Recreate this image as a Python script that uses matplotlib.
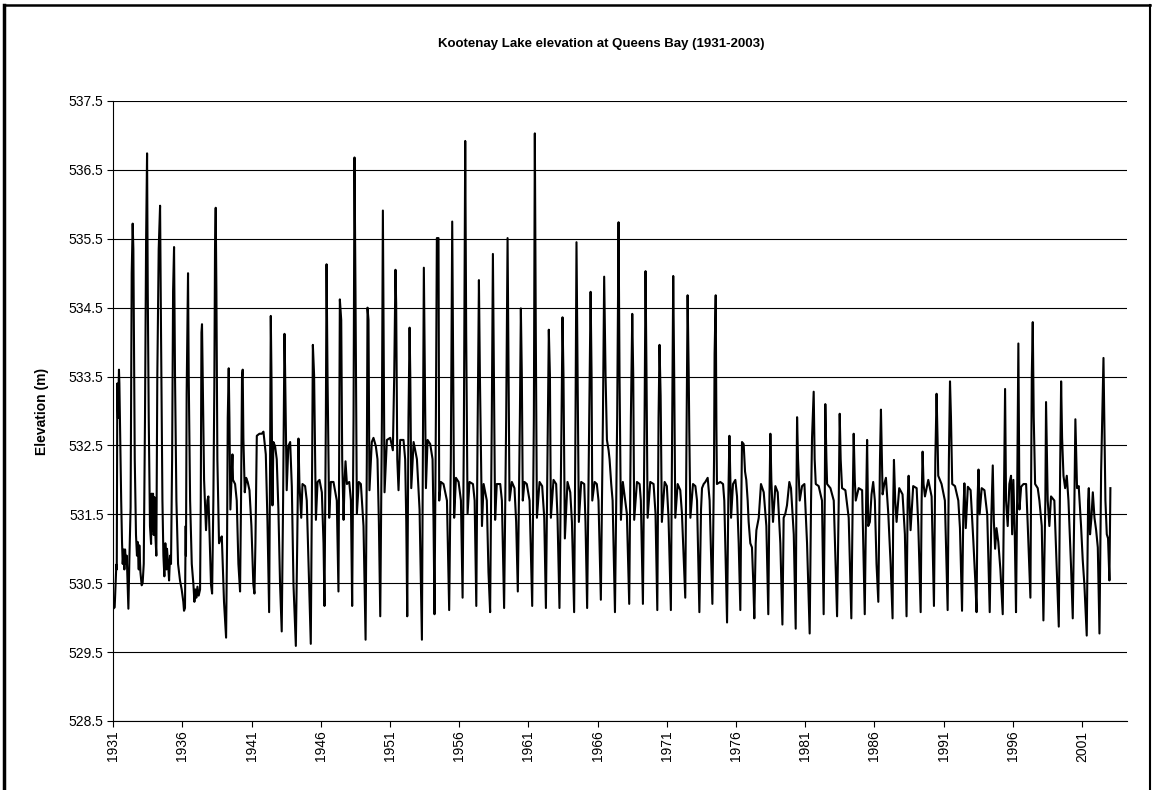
import numpy as np
import matplotlib.pyplot as plt
from matplotlib.lines import Line2D

plt.rcParams['font.family'] = ['Liberation Sans', 'DejaVu Sans']

# hydrograph break points: (decimal year, elevation m)
before_dam = [
    (1931.00, 530.13), (1931.10, 530.15), (1931.22, 530.77), (1931.25, 530.70), (1931.29, 533.40),
    (1931.34, 532.90), (1931.41, 533.60), (1931.44, 533.40), (1931.57, 531.70), (1931.63, 531.10),
    (1931.68, 530.78), (1931.75, 530.99), (1931.80, 530.70), (1931.85, 530.99), (1931.92, 530.78),
    (1931.97, 530.90), (1932.09, 530.13), (1932.16, 530.83), (1932.25, 531.60), (1932.33, 535.00),
    (1932.40, 535.72), (1932.45, 535.35), (1932.55, 532.30), (1932.64, 531.20), (1932.71, 530.90),
    (1932.76, 531.10), (1932.84, 530.70), (1932.88, 531.05), (1932.96, 530.66), (1933.05, 530.47),
    (1933.12, 530.50), (1933.20, 530.78), (1933.29, 532.90), (1933.37, 535.48), (1933.44, 536.74),
    (1933.49, 534.74), (1933.56, 532.90), (1933.65, 531.33), (1933.73, 531.07), (1933.77, 531.80),
    (1933.82, 531.27), (1933.87, 531.80), (1933.92, 531.20), (1933.97, 531.75), (1934.04, 531.20),
    (1934.11, 530.90), (1934.18, 533.50), (1934.28, 535.35), (1934.38, 535.98), (1934.45, 534.10),
    (1934.55, 531.70), (1934.62, 530.90), (1934.69, 530.60), (1934.76, 531.08), (1934.84, 530.70),
    (1934.88, 531.00), (1934.96, 530.78), (1935.03, 530.54), (1935.10, 530.90), (1935.17, 530.78),
    (1935.25, 532.30), (1935.32, 534.74), (1935.39, 535.38), (1935.46, 533.50), (1935.56, 531.70),
    (1935.68, 530.78), (1935.82, 530.54), (1935.94, 530.41), (1936.06, 530.23), (1936.11, 530.10),
    (1936.18, 530.14), (1936.23, 531.33), (1936.25, 530.90), (1936.30, 533.25), (1936.35, 534.14),
    (1936.40, 535.00), (1936.45, 533.50), (1936.55, 531.70), (1936.67, 530.78), (1936.79, 530.48),
    (1936.86, 530.23), (1936.93, 530.41), (1937.00, 530.29), (1937.08, 530.45), (1937.17, 530.32),
    (1937.27, 530.41), (1937.32, 531.70), (1937.37, 534.14), (1937.41, 534.26), (1937.46, 533.50),
    (1937.56, 532.00), (1937.70, 531.27), (1937.80, 531.70), (1937.87, 531.76), (1937.92, 531.45),
    (1937.99, 530.96), (1938.06, 530.48), (1938.14, 530.35), (1938.23, 531.70), (1938.30, 533.34),
    (1938.35, 535.35), (1938.40, 535.95), (1938.45, 534.74), (1938.52, 532.30), (1938.64, 531.08),
    (1938.76, 531.15), (1938.84, 531.18), (1938.91, 530.78), (1939.00, 530.23), (1939.15, 529.71),
]

corra_linn = [
    (1939.22, 531.08), (1939.27, 532.90), (1939.34, 533.62), (1939.39, 532.90), (1939.46, 531.57),
    (1939.53, 531.94), (1939.61, 532.37), (1939.65, 532.00), (1939.80, 531.94), (1939.92, 531.70),
    (1940.04, 530.78), (1940.16, 530.38), (1940.23, 531.70), (1940.30, 533.50), (1940.35, 533.60),
    (1940.40, 532.60), (1940.50, 531.82), (1940.60, 532.03), (1940.71, 531.97), (1940.84, 531.85),
    (1940.98, 531.33), (1941.12, 530.48), (1941.20, 530.35), (1941.27, 531.08), (1941.37, 532.64),
    (1941.56, 532.67), (1941.73, 532.67), (1941.85, 532.70), (1942.02, 532.37), (1942.14, 531.39),
    (1942.26, 530.08), (1942.33, 532.30), (1942.38, 534.38), (1942.43, 533.50), (1942.50, 531.63),
    (1942.57, 532.55), (1942.69, 532.49), (1942.81, 532.30), (1942.93, 531.57), (1943.05, 530.48),
    (1943.17, 529.80), (1943.27, 531.70), (1943.37, 534.12), (1943.41, 533.65), (1943.53, 531.85),
    (1943.65, 532.49), (1943.78, 532.55), (1943.90, 531.90), (1944.02, 530.48), (1944.19, 529.59),
    (1944.29, 531.08), (1944.38, 532.60), (1944.45, 531.94), (1944.58, 531.45), (1944.67, 531.94),
    (1944.86, 531.91), (1944.98, 531.70), (1945.15, 530.48), (1945.27, 529.62), (1945.37, 532.30),
    (1945.42, 533.96), (1945.51, 533.52), (1945.64, 531.42), (1945.76, 531.97), (1945.90, 532.00),
    (1946.07, 531.82), (1946.19, 531.08), (1946.26, 530.17), (1946.36, 532.90), (1946.41, 535.13),
    (1946.48, 533.52), (1946.60, 531.45), (1946.72, 531.97), (1946.91, 531.97), (1947.15, 531.70),
    (1947.27, 530.38), (1947.32, 532.30), (1947.37, 534.62), (1947.47, 534.32), (1947.54, 532.30),
    (1947.64, 531.42), (1947.71, 531.97), (1947.78, 532.27), (1947.88, 531.94), (1948.05, 531.97),
    (1948.17, 531.70), (1948.26, 530.17), (1948.36, 532.90), (1948.43, 536.68), (1948.50, 534.74),
    (1948.60, 531.51), (1948.74, 531.97), (1948.89, 531.94), (1949.08, 531.33), (1949.23, 529.68),
    (1949.32, 532.30), (1949.37, 534.50), (1949.44, 534.32), (1949.51, 531.85), (1949.68, 532.55),
    (1949.80, 532.61), (1949.97, 532.49), (1950.09, 532.30), (1950.19, 531.39), (1950.29, 530.02),
    (1950.41, 532.90), (1950.48, 535.91), (1950.53, 534.13), (1950.60, 531.82), (1950.77, 532.58),
    (1951.01, 532.61), (1951.20, 532.43), (1951.30, 533.52), (1951.39, 535.05), (1951.44, 534.56),
    (1951.52, 532.30), (1951.61, 531.85), (1951.73, 532.58), (1951.97, 532.58), (1952.09, 532.30),
    (1952.17, 531.39), (1952.24, 530.02), (1952.33, 532.90), (1952.41, 534.21), (1952.46, 533.52),
    (1952.53, 531.88), (1952.70, 532.55), (1952.94, 532.30), (1953.13, 531.57), (1953.30, 529.68),
    (1953.37, 532.30), (1953.44, 535.08), (1953.51, 533.52), (1953.59, 531.88), (1953.71, 532.58),
    (1953.90, 532.52), (1954.07, 532.30), (1954.14, 531.39), (1954.21, 530.05), (1954.31, 532.90),
    (1954.38, 535.51), (1954.50, 535.51), (1954.55, 531.70), (1954.67, 531.97), (1954.86, 531.94),
    (1955.11, 531.70), (1955.27, 530.11), (1955.39, 532.30), (1955.49, 535.75), (1955.56, 533.52),
    (1955.63, 531.45), (1955.76, 532.03), (1955.95, 531.97), (1956.12, 531.70), (1956.24, 530.29),
    (1956.33, 532.61), (1956.43, 536.92), (1956.50, 534.13), (1956.60, 531.51), (1956.74, 531.97),
    (1956.99, 531.94), (1957.11, 531.70), (1957.23, 530.17), (1957.32, 532.61), (1957.42, 534.90),
    (1957.49, 533.52), (1957.64, 531.33), (1957.76, 531.94), (1957.99, 531.70), (1958.11, 530.66),
    (1958.23, 530.08), (1958.35, 532.90), (1958.43, 535.28), (1958.50, 533.52), (1958.59, 531.42),
    (1958.71, 531.94), (1958.96, 531.94), (1959.08, 531.70), (1959.24, 530.14), (1959.39, 532.90),
    (1959.49, 535.51), (1959.56, 533.52), (1959.63, 531.70), (1959.80, 531.97), (1959.99, 531.88),
    (1960.11, 531.39), (1960.23, 530.38), (1960.38, 532.90), (1960.45, 534.49), (1960.52, 533.52),
    (1960.59, 531.70), (1960.71, 531.97), (1960.88, 531.94), (1961.08, 531.70), (1961.27, 530.17),
    (1961.39, 532.90), (1961.46, 537.03), (1961.53, 534.13), (1961.61, 531.45), (1961.80, 531.97),
    (1961.99, 531.91), (1962.14, 531.45), (1962.26, 530.14), (1962.40, 532.90), (1962.47, 534.18),
    (1962.55, 533.52), (1962.62, 531.45), (1962.81, 532.00), (1963.00, 531.94), (1963.10, 531.45),
    (1963.24, 530.14), (1963.39, 532.90), (1963.46, 534.36), (1963.53, 533.52), (1963.63, 531.15),
    (1963.82, 531.97), (1964.02, 531.82), (1964.14, 531.39), (1964.30, 530.08), (1964.40, 532.90),
    (1964.47, 535.45), (1964.55, 533.52), (1964.64, 531.39), (1964.81, 531.97), (1965.03, 531.94),
    (1965.12, 531.39), (1965.24, 530.14), (1965.39, 532.90), (1965.49, 534.73), (1965.56, 533.52),
    (1965.61, 531.70), (1965.78, 531.97), (1965.94, 531.94), (1966.06, 531.70), (1966.23, 530.26),
    (1966.38, 532.90), (1966.47, 534.95), (1966.57, 533.52), (1966.67, 532.58), (1966.79, 532.43),
    (1966.86, 532.30), (1966.98, 531.94), (1967.08, 531.70), (1967.25, 530.08), (1967.41, 532.90),
    (1967.51, 535.74), (1967.58, 533.52), (1967.68, 531.42), (1967.82, 531.97), (1967.99, 531.70),
    (1968.11, 531.51), (1968.28, 530.20), (1968.40, 532.90), (1968.50, 534.41), (1968.57, 533.52),
    (1968.64, 531.42), (1968.84, 531.97), (1969.03, 531.94), (1969.12, 531.70), (1969.27, 530.20),
    (1969.39, 532.90), (1969.46, 535.03), (1969.53, 533.52), (1969.61, 531.45), (1969.80, 531.97),
    (1970.04, 531.94), (1970.18, 531.51), (1970.31, 530.11), (1970.40, 532.90), (1970.47, 533.96),
    (1970.55, 533.22), (1970.64, 531.39), (1970.84, 531.97), (1971.00, 531.91), (1971.12, 531.45),
    (1971.29, 530.11), (1971.39, 532.90), (1971.46, 534.96), (1971.53, 533.52), (1971.61, 531.45),
    (1971.78, 531.94), (1971.97, 531.85),
]

libby = [
    (1972.09, 531.51), (1972.33, 530.29), (1972.43, 532.90), (1972.50, 534.68), (1972.58, 533.52),
    (1972.62, 532.73), (1972.70, 531.45), (1972.89, 531.94), (1973.06, 531.91), (1973.18, 531.70),
    (1973.35, 530.08), (1973.47, 531.57), (1973.54, 531.88), (1973.66, 531.94), (1973.78, 531.97),
    (1973.95, 532.03), (1974.09, 531.70), (1974.29, 530.20), (1974.41, 532.30), (1974.45, 533.83),
    (1974.53, 534.68), (1974.58, 532.79), (1974.62, 531.94), (1974.86, 531.97), (1975.06, 531.94),
    (1975.15, 531.70), (1975.35, 529.93), (1975.44, 531.70), (1975.52, 532.64), (1975.59, 532.00),
    (1975.64, 531.45), (1975.78, 531.94), (1975.95, 532.00), (1976.07, 531.76), (1976.19, 531.08),
    (1976.31, 530.11), (1976.38, 531.70), (1976.43, 532.55), (1976.55, 532.52), (1976.65, 532.12),
    (1976.74, 532.00), (1976.84, 531.70), (1976.91, 531.39), (1977.03, 531.08), (1977.15, 531.02),
    (1977.25, 530.48), (1977.32, 529.99), (1977.42, 531.08), (1977.47, 531.27), (1977.64, 531.45),
    (1977.80, 531.94), (1978.00, 531.82), (1978.19, 531.33), (1978.33, 530.05), (1978.41, 531.70),
    (1978.48, 532.67), (1978.55, 532.00), (1978.67, 531.39), (1978.84, 531.91), (1979.01, 531.82),
    (1979.20, 531.08), (1979.35, 529.90), (1979.44, 531.45), (1979.56, 531.51), (1979.68, 531.63),
    (1979.85, 531.97), (1979.97, 531.88), (1980.17, 531.21), (1980.31, 529.84), (1980.36, 531.70),
    (1980.41, 532.91), (1980.48, 532.30), (1980.60, 531.70), (1980.77, 531.91), (1980.94, 531.94),
    (1981.13, 531.08), (1981.32, 529.77), (1981.42, 531.70), (1981.49, 532.61), (1981.61, 533.28),
    (1981.68, 532.30), (1981.76, 531.94), (1981.97, 531.91), (1982.21, 531.70), (1982.33, 530.05),
    (1982.41, 531.70), (1982.45, 533.10), (1982.53, 532.30), (1982.58, 531.94), (1982.82, 531.88),
    (1983.06, 531.70), (1983.30, 530.02), (1983.42, 531.70), (1983.49, 532.96), (1983.56, 532.30),
    (1983.66, 531.88), (1983.90, 531.85), (1984.14, 531.45), (1984.33, 529.99), (1984.43, 531.70),
    (1984.50, 532.67), (1984.58, 532.00), (1984.65, 531.70), (1984.86, 531.88), (1985.11, 531.85),
    (1985.30, 530.05), (1985.40, 531.70), (1985.47, 532.58), (1985.55, 531.33), (1985.67, 531.39),
    (1985.79, 531.79), (1985.91, 531.97), (1986.03, 531.70), (1986.15, 530.78), (1986.28, 530.23),
    (1986.40, 532.30), (1986.47, 533.02), (1986.54, 532.30), (1986.59, 531.79), (1986.71, 531.94),
    (1986.83, 532.03), (1987.00, 531.51), (1987.17, 530.78), (1987.31, 529.99), (1987.36, 531.70),
    (1987.41, 532.29), (1987.50, 531.70), (1987.60, 531.39), (1987.79, 531.88), (1988.03, 531.79),
    (1988.20, 531.21), (1988.32, 530.02), (1988.40, 531.70), (1988.47, 532.06), (1988.54, 531.63),
    (1988.61, 531.27), (1988.80, 531.91), (1989.05, 531.88), (1989.17, 531.33), (1989.34, 530.08),
    (1989.41, 531.70), (1989.48, 532.41), (1989.55, 531.94), (1989.65, 531.76), (1989.89, 532.00),
    (1990.13, 531.76), (1990.30, 530.17), (1990.40, 532.30), (1990.49, 533.25), (1990.56, 532.61),
    (1990.61, 532.06), (1990.85, 531.94), (1991.09, 531.70), (1991.29, 530.11), (1991.38, 532.30),
    (1991.46, 533.43), (1991.53, 532.91), (1991.62, 531.94), (1991.82, 531.91), (1992.06, 531.70),
    (1992.18, 531.30), (1992.33, 530.10), (1992.42, 531.50), (1992.50, 531.95), (1992.60, 531.30),
    (1992.75, 531.90), (1992.95, 531.85), (1993.15, 531.10), (1993.30, 530.48), (1993.38, 530.08),
    (1993.45, 531.70), (1993.52, 532.15), (1993.60, 531.50), (1993.75, 531.88), (1993.95, 531.85),
    (1994.15, 531.50), (1994.33, 530.08), (1994.45, 531.50), (1994.55, 532.21), (1994.63, 531.40),
    (1994.72, 531.00), (1994.82, 531.30), (1994.95, 531.10), (1995.10, 530.70), (1995.27, 530.05),
    (1995.38, 532.20), (1995.44, 533.32), (1995.51, 531.70), (1995.63, 531.33), (1995.75, 531.94),
    (1995.87, 532.06), (1995.95, 531.21), (1996.04, 532.00), (1996.14, 531.20), (1996.23, 530.08),
    (1996.31, 531.70), (1996.40, 533.98), (1996.48, 531.57), (1996.60, 531.90), (1996.77, 531.94),
    (1996.96, 531.94), (1997.08, 531.33), (1997.27, 530.29), (1997.37, 533.52), (1997.44, 534.29),
    (1997.51, 532.91), (1997.61, 531.94), (1997.80, 531.88), (1997.92, 531.70), (1998.09, 531.33),
    (1998.21, 529.96), (1998.35, 531.70), (1998.40, 533.13), (1998.52, 531.70), (1998.64, 531.33),
    (1998.76, 531.76), (1999.00, 531.70), (1999.17, 530.72), (1999.32, 529.87), (1999.42, 532.18),
    (1999.49, 533.43), (1999.56, 532.61), (1999.66, 532.06), (1999.78, 531.88), (1999.90, 532.06),
    (2000.02, 531.70), (2000.21, 530.72), (2000.33, 529.99), (2000.45, 531.70), (2000.52, 532.88),
    (2000.64, 531.88), (2000.76, 531.91), (2000.93, 531.33), (2001.05, 530.84), (2001.17, 530.48),
    (2001.34, 529.74), (2001.44, 531.70), (2001.49, 531.88), (2001.58, 531.21), (2001.68, 531.45),
    (2001.78, 531.82), (2001.90, 531.45), (2002.02, 531.27), (2002.14, 531.02), (2002.26, 529.77),
    (2002.38, 532.12), (2002.55, 533.77), (2002.69, 531.70), (2002.79, 531.21), (2002.88, 531.15),
    (2002.98, 530.54), (2003.05, 531.88),
]

tick_years = list(range(1931, 2002, 5))
elev_ticks = [528.5, 529.5, 530.5, 531.5, 532.5, 533.5, 534.5, 535.5, 536.5, 537.5]

fig = plt.figure(figsize=(11.53, 7.90), dpi=100)
ax = fig.add_axes([113.3 / 1153, 1 - 721 / 790, (1127 - 113.3) / 1153, 620 / 790])

pts = before_dam + corra_linn + libby
t = [p[0] for p in pts]
z = [p[1] for p in pts]
ax.plot(t, z, color='black', lw=1.5)

ax.set_xlim(1931, 2004.25)
ax.set_ylim(528.5, 537.5)
ax.set_yticks(elev_ticks)
ax.set_yticklabels([f'{v:.1f}' for v in elev_ticks], fontsize=10)
ax.set_xticks(tick_years)
ax.set_xticklabels([str(y) for y in tick_years], rotation=90, fontsize=10)
ax.tick_params(direction='out', length=4, width=0.8, color='black', pad=3)
ax.grid(axis='y', color='black', lw=0.8)
ax.set_axisbelow(True)
for s in ('top', 'right'):
    ax.spines[s].set_visible(False)
ax.spines['left'].set_linewidth(0.8)
ax.spines['bottom'].set_linewidth(0.8)

ax.set_ylabel('Elevation (m)', fontsize=10, fontweight='bold', labelpad=14)
fig.text(601 / 1153, 1 - 44 / 790, 'Kootenay Lake elevation at Queens Bay (1931-2003)',
         ha='center', va='center', fontsize=9.5, fontweight='bold')

# chart frame (bottom edge is cut off in the source image)
fig.add_artist(Line2D([4 / 1153, 4 / 1153], [0, 1 - 5 / 790], transform=fig.transFigure, color='black', lw=2.5))
fig.add_artist(Line2D([1150 / 1153, 1150 / 1153], [0, 1 - 5 / 790], transform=fig.transFigure, color='black', lw=1.5))
fig.add_artist(Line2D([4 / 1153, 1150 / 1153], [1 - 5 / 790, 1 - 5 / 790], transform=fig.transFigure, color='black', lw=1.8))

fig.savefig('out.png', dpi=100)
